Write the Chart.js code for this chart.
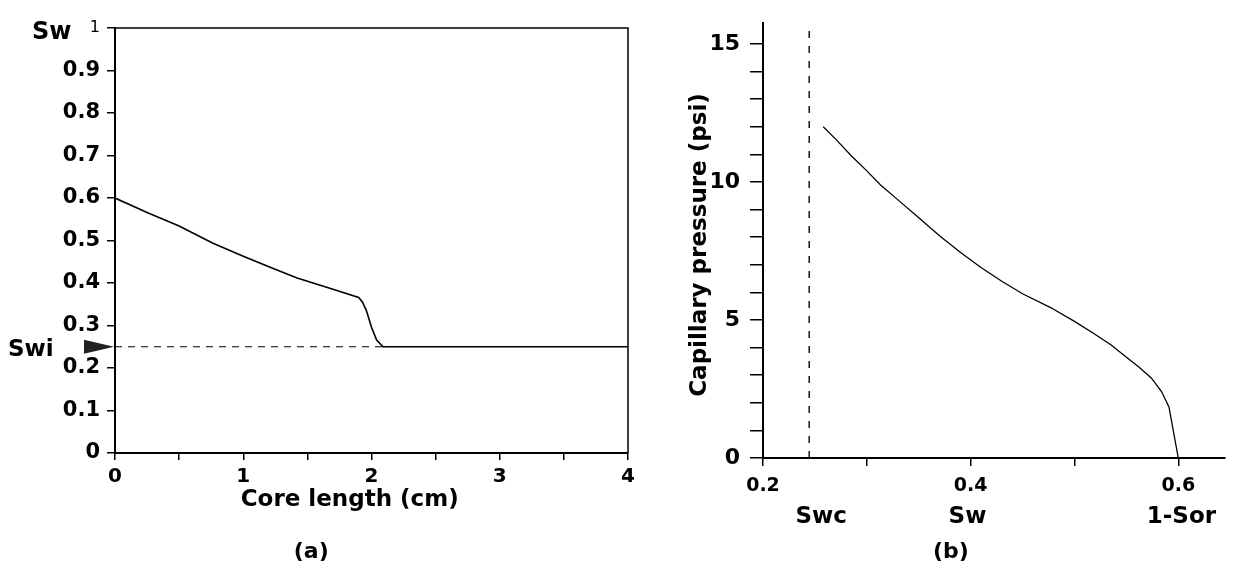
<!DOCTYPE html>
<html>
<head>
<meta charset="utf-8">
<script src="https://cdn.jsdelivr.net/npm/chart.js@4.4.0/dist/chart.umd.min.js"></script>
<style>
body { margin: 0; background: #fff; }
#wrap { position: relative; width: 1237px; height: 585px; }
canvas { position: absolute; top: 0; }
#chartA { left: 0; }
#chartB { left: 640px; }
</style>
</head>
<body>
<div id="wrap">
<canvas id="chartA" width="640" height="585"></canvas>
<canvas id="chartB" width="597" height="585"></canvas>
</div>
<script>
// (a) water saturation profile along the core
var coreLength = [0, 0.25, 0.5, 0.76, 1.0, 1.2, 1.42, 1.65, 1.9, 1.93, 1.96, 2.0, 2.04, 2.09, 4.0];
var swProfile = [0.6, 0.566, 0.534, 0.494, 0.463, 0.438, 0.412, 0.39, 0.366, 0.355, 0.335, 0.296, 0.266, 0.25, 0.25];
var swi = 0.25;
var swiLineEnd = 2.09;
var coreTickLabels = [0, 1, 2, 3, 4];

// (b) capillary pressure curve
var swValues = [0.258, 0.27, 0.285, 0.30, 0.313, 0.33, 0.35, 0.37, 0.39, 0.41, 0.43, 0.45, 0.477, 0.50, 0.519, 0.535, 0.548, 0.562, 0.574, 0.584, 0.591, 0.6];
var pcValues = [12.0, 11.55, 10.95, 10.4, 9.9, 9.35, 8.7, 8.05, 7.45, 6.9, 6.4, 5.95, 5.45, 4.95, 4.5, 4.1, 3.71, 3.3, 2.9, 2.4, 1.85, 0];
var swc = 0.2445;
var swTickLabels = [0.2, 0.4, 0.6];
var pcTickLabels = [0, 5, 10, 15];

var FONT = 'DejaVu Sans';

function toPoints(xs, ys) {
    var pts = [];
    for (var i = 0; i < xs.length; i++) pts.push({ x: xs[i], y: ys[i] });
    return pts;
}

var labelsA = {
    id: 'labelsA',
    afterDraw: function(chart) {
        var ctx = chart.ctx, area = chart.chartArea, x = chart.scales.x, y = chart.scales.y;
        ctx.save();
        // box top and right edges
        ctx.strokeStyle = '#000';
        ctx.lineWidth = 1.5;
        ctx.beginPath();
        ctx.moveTo(area.left, area.top);
        ctx.lineTo(area.right, area.top);
        ctx.lineTo(area.right, area.bottom);
        ctx.stroke();

        ctx.fillStyle = '#000';
        ctx.textBaseline = 'middle';
        ctx.textAlign = 'left';
        ctx.font = 'bold 24px "' + FONT + '"';
        ctx.fillText('Sw', 32, y.getPixelForValue(1) + 5);

        var ys = y.getPixelForValue(swi);
        ctx.font = 'bold 23px "' + FONT + '"';
        ctx.fillText('Swi', 8, ys + 3);
        // arrow pointing at Swi
        ctx.fillStyle = '#222';
        ctx.beginPath();
        ctx.moveTo(area.left - 31, ys - 7);
        ctx.lineTo(area.left - 1, ys);
        ctx.lineTo(area.left - 31, ys + 7);
        ctx.closePath();
        ctx.fill();

        ctx.fillStyle = '#000';
        ctx.textAlign = 'center';
        ctx.font = 'bold 23px "' + FONT + '"';
        ctx.fillText('Core length (cm)', x.getPixelForValue(1.83), 500);
        ctx.font = 'bold 22px "' + FONT + '"';
        ctx.fillText('(a)', x.getPixelForValue(1.53), 552);
        ctx.restore();
    }
};

var labelsB = {
    id: 'labelsB',
    afterDraw: function(chart) {
        var ctx = chart.ctx, x = chart.scales.x;
        ctx.save();
        ctx.fillStyle = '#000';
        ctx.textBaseline = 'middle';
        ctx.textAlign = 'center';
        ctx.font = 'bold 23px "' + FONT + '"';
        ctx.fillText('Swc', x.getPixelForValue(0.256), 517);
        ctx.fillText('Sw', x.getPixelForValue(0.397), 517);
        ctx.fillText('1-Sor', x.getPixelForValue(0.603), 517);
        ctx.font = 'bold 22px "' + FONT + '"';
        ctx.fillText('(b)', x.getPixelForValue(0.381), 552);

        ctx.translate(60, 245);
        ctx.rotate(-Math.PI / 2);
        ctx.font = 'bold 23px "' + FONT + '"';
        ctx.fillText('Capillary pressure (psi)', 0, 0);
        ctx.restore();
    }
};

new Chart(document.getElementById('chartA'), {
    type: 'scatter',
    data: {
        datasets: [
            { data: toPoints(coreLength, swProfile), showLine: true, borderColor: '#000', borderWidth: 1.6, pointRadius: 0 },
            { data: [{ x: 0, y: swi }, { x: swiLineEnd, y: swi }], showLine: true, borderColor: '#000', borderWidth: 1.2, borderDash: [7, 6], pointRadius: 0 }
        ]
    },
    options: {
        responsive: false,
        animation: false,
        devicePixelRatio: 1,
        layout: { padding: { top: 28, right: 12, left: 0, bottom: 0 } },
        plugins: { legend: { display: false }, tooltip: { enabled: false } },
        scales: {
            x: {
                type: 'linear', min: 0, max: 4,
                afterFit: function(s) { s.height = 132; },
                border: { display: true, color: '#000', width: 2 },
                grid: { drawOnChartArea: false, drawTicks: true, tickLength: 7, color: '#000', lineWidth: 1.5 },
                ticks: {
                    stepSize: 0.5, autoSkip: false, maxRotation: 0, padding: 5, color: '#000',
                    font: { family: FONT, size: 20, weight: 'bold' },
                    callback: function(v) { return coreTickLabels.indexOf(v) >= 0 ? String(v) : ''; }
                }
            },
            y: {
                type: 'linear', min: 0, max: 1,
                afterFit: function(s) { s.width = 115; },
                border: { display: true, color: '#000', width: 2 },
                grid: { drawOnChartArea: false, drawTicks: true, tickLength: 8, color: '#000', lineWidth: 1.5 },
                ticks: {
                    stepSize: 0.1, autoSkip: false, padding: 7, color: '#000',
                    font: function(c) {
                        if (c.tick && c.tick.value === 1) return { family: FONT, size: 16, weight: 'normal' };
                        return { family: FONT, size: 21, weight: 'bold' };
                    },
                    callback: function(v) {
                        var r = Math.round(v * 10) / 10;
                        if (r === 0) return '0';
                        if (r === 1) return '1';
                        return r.toFixed(1);
                    }
                }
            }
        }
    },
    plugins: [labelsA]
});

new Chart(document.getElementById('chartB'), {
    type: 'scatter',
    data: {
        datasets: [
            { data: toPoints(swValues, pcValues), showLine: true, borderColor: '#000', borderWidth: 1.3, pointRadius: 0 },
            { data: [{ x: swc, y: 0 }, { x: swc, y: 15.75 }], showLine: true, borderColor: '#000', borderWidth: 1.4, borderDash: [7, 8], pointRadius: 0 }
        ]
    },
    options: {
        responsive: false,
        animation: false,
        devicePixelRatio: 1,
        layout: { padding: { top: 7, right: 12, left: 0, bottom: 0 } },
        plugins: { legend: { display: false }, tooltip: { enabled: false } },
        scales: {
            x: {
                type: 'linear', min: 0.2, max: 0.645,
                afterFit: function(s) { s.height = 127; },
                border: { display: true, color: '#000', width: 2 },
                grid: { drawOnChartArea: false, drawTicks: true, tickLength: 8, color: '#000', lineWidth: 1.5 },
                ticks: {
                    stepSize: 0.1, includeBounds: false, autoSkip: false, maxRotation: 0, padding: 9, color: '#000',
                    font: { family: FONT, size: 19, weight: 'bold' },
                    callback: function(v) {
                        var r = Math.round(v * 10) / 10;
                        return swTickLabels.indexOf(r) >= 0 ? r.toFixed(1) : '';
                    }
                }
            },
            y: {
                type: 'linear', min: 0, max: 15.75,
                afterFit: function(s) { s.width = 123; },
                border: { display: true, color: '#000', width: 2 },
                grid: { drawOnChartArea: false, drawTicks: true, tickLength: 13, color: '#000', lineWidth: 1.5 },
                ticks: {
                    stepSize: 1, includeBounds: false, autoSkip: false, padding: 10, color: '#000',
                    font: { family: FONT, size: 22, weight: 'bold' },
                    callback: function(v) { return pcTickLabels.indexOf(v) >= 0 ? String(v) : ''; }
                }
            }
        }
    },
    plugins: [labelsB]
});
</script>
</body>
</html>
